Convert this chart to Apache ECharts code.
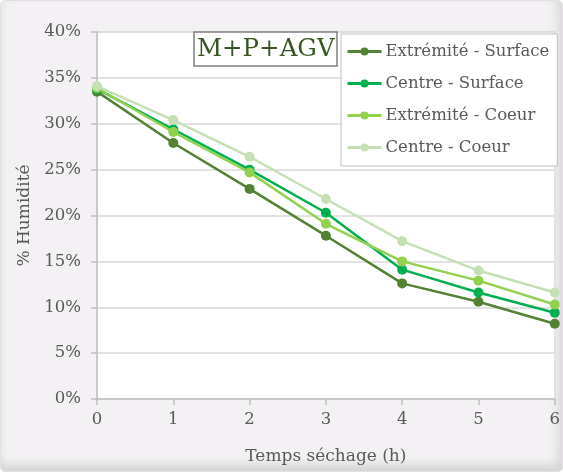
<!DOCTYPE html>
<html>
<head>
<meta charset="utf-8">
<script src="https://cdn.jsdelivr.net/npm/echarts@6/dist/echarts.min.js"></script>
<style>
html,body{margin:0;padding:0;background:#fff;}
#frame{position:absolute;left:0;top:0;width:563px;height:472px;box-sizing:border-box;
  background:#f3f1f3;border-radius:6px;
  box-shadow:inset 0 0 0 1px #e2e0e2, inset 0 -12px 8px -4px #d8d6d8, inset 8px 0 8px -6px #e6e4e6, inset -10px 0 8px -4px #dcdadc;}
#chart{position:absolute;left:0;top:0;width:563px;height:472px;}
</style>
</head>
<body>
<div id="frame"></div>
<div id="chart"></div>
<script>
const hours = [0, 1, 2, 3, 4, 5, 6];
const seriesNames = ['Extrémité - Surface', 'Centre - Surface', 'Extrémité - Coeur', 'Centre - Coeur'];
const extremiteSurface = [33.5, 27.9, 22.9, 17.8, 12.6, 10.6, 8.2];
const centreSurface    = [33.8, 29.4, 25.0, 20.3, 14.1, 11.6, 9.4];
const extremiteCoeur   = [33.9, 29.1, 24.7, 19.1, 15.0, 12.9, 10.3];
const centreCoeur      = [34.1, 30.4, 26.4, 21.8, 17.2, 14.0, 11.6];
const yTicks = [0, 5, 10, 15, 20, 25, 30, 35, 40];
const titleText = 'M+P+AGV';
const xAxisName = 'Temps séchage (h)';
const yAxisName = '% Humidité';

const colors = ['#548235', '#00b050', '#92d050', '#c5e0b4'];
const allValues = [extremiteSurface, centreSurface, extremiteCoeur, centreCoeur];
const FONT = 'DejaVu Serif';

const chart = echarts.init(document.getElementById('chart'), null, {renderer: 'canvas'});
chart.setOption({
  backgroundColor: 'transparent',
  animation: false,
  title: {
    text: titleText,
    left: 194, top: 32,
    padding: [5, 3, 4, 3],
    borderColor: '#7f7f7f', borderWidth: 1.5,
    backgroundColor: '#fff',
    textStyle: {fontFamily: FONT, fontSize: 24.5, fontWeight: 'normal', color: '#375623'}
  },
  legend: {
    orient: 'vertical',
    left: 341, top: 34,
    padding: [9, 8, 10, 5],
    itemGap: 15,
    itemWidth: 34, itemHeight: 10,
    backgroundColor: '#fff',
    borderColor: '#bfbfbf', borderWidth: 1,
    lineStyle: {width: 3},
    textStyle: {fontFamily: FONT, fontSize: 16.5, color: '#595959', padding: [0, 0, 0, -1]},
    data: seriesNames
  },
  grid: {
    left: 97, right: 6, top: 32, bottom: 73,
    show: true, backgroundColor: '#fff', borderColor: '#d9d9d9', borderWidth: 1
  },
  xAxis: {
    type: 'value', min: 0, max: 6, interval: 1,
    name: xAxisName, nameLocation: 'middle', nameGap: 49,
    nameTextStyle: {fontFamily: FONT, fontSize: 17, color: '#595959'},
    axisLine: {show: true, lineStyle: {color: '#bfbfbf', width: 1.5}},
    axisTick: {show: true, length: 6, lineStyle: {color: '#bfbfbf', width: 1.5}},
    axisLabel: {fontFamily: FONT, fontSize: 16.5, color: '#595959', margin: 12},
    splitLine: {show: false}
  },
  yAxis: {
    type: 'value', min: yTicks[0], max: yTicks[yTicks.length - 1], interval: 5,
    name: yAxisName, nameLocation: 'middle', nameGap: 63, nameRotate: 90,
    nameTextStyle: {fontFamily: FONT, fontSize: 17, color: '#595959'},
    axisLine: {show: true, lineStyle: {color: '#bfbfbf', width: 1.5}},
    axisTick: {show: true, length: 6, lineStyle: {color: '#bfbfbf', width: 1.5}},
    axisLabel: {fontFamily: FONT, fontSize: 16.5, color: '#595959', margin: 16, formatter: v => v + '%'},
    splitLine: {show: true, lineStyle: {color: '#d9d9d9', width: 1.5}}
  },
  series: seriesNames.map((n, i) => ({
    name: n,
    type: 'line',
    data: hours.map((h, j) => [h, allValues[i][j]]),
    symbol: 'circle', symbolSize: 10,
    lineStyle: {color: colors[i], width: 2.5},
    itemStyle: {color: colors[i]},
    z: 2 + i
  }))
});
</script>
</body>
</html>
